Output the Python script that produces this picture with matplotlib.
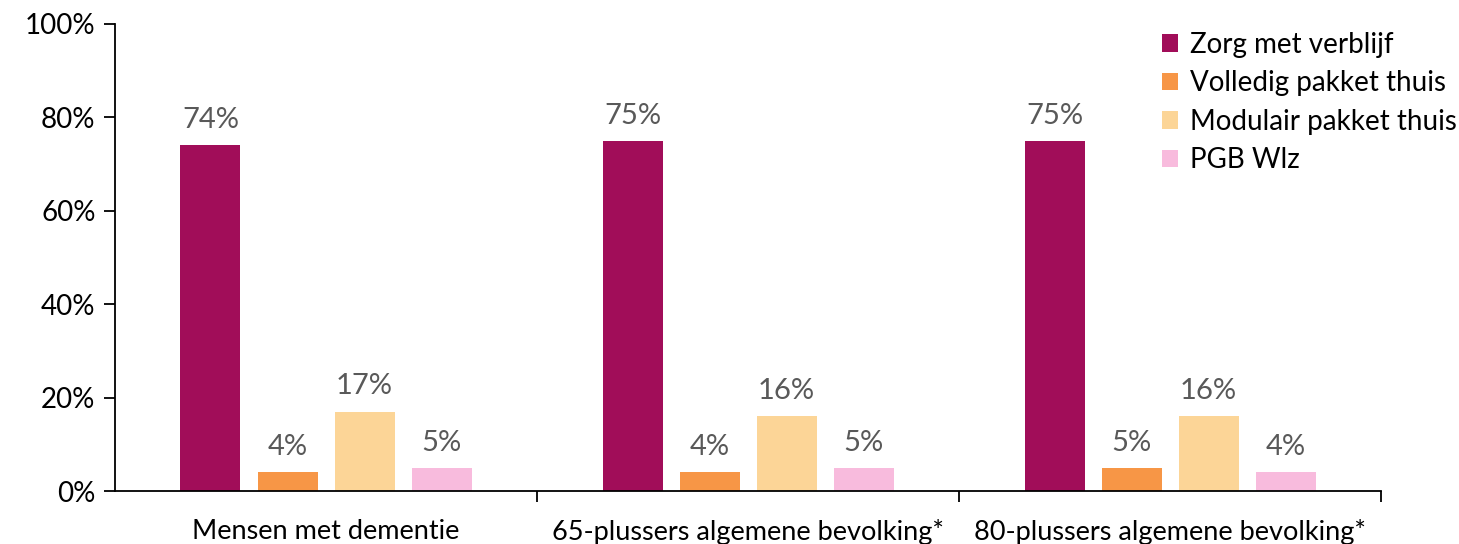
import numpy as np
import matplotlib
matplotlib.use("Agg")
import matplotlib.pyplot as plt
from matplotlib.ticker import PercentFormatter, FixedLocator

plt.rcParams['font.family'] = ['Lato', 'DejaVu Sans']

# ── data ──
groups = ["Mensen met dementie", "65-plussers algemene bevolking*", "80-plussers algemene bevolking*"]
series = ["Zorg met verblijf", "Volledig pakket thuis", "Modulair pakket thuis", "PGB Wlz"]
zorg_verblijf = [74, 75, 75]
volledig_thuis = [4, 4, 5]
modulair_thuis = [17, 16, 16]
pgb_wlz = [5, 5, 4]
colors = ["#A10D59", "#F79646", "#FCD597", "#F8BBDD"]

values = [zorg_verblijf, volledig_thuis, modulair_thuis, pgb_wlz]

fig = plt.figure(figsize=(14.59, 5.44), dpi=100)
ax = fig.add_axes([115 / 1459, 1 - 491 / 544, (1381 - 115) / 1459, (491 - 24) / 544])

x = np.arange(len(groups))
width = 60 / 422
pitch = 77 / 422
for k, (name, vals, col) in enumerate(zip(series, values, colors)):
    pos = x + (k - 1.5) * pitch
    bars = ax.bar(pos, vals, width=width, color=col, label=name)
    for b, v in zip(bars, vals):
        ax.text(b.get_x() + b.get_width() / 2, v + 2.6, f"{v}%",
                ha="center", va="bottom", fontsize=21, color="#595959")

ax.set_xlim(-0.5, len(groups) - 0.5)
ax.set_ylim(0, 100)
ax.yaxis.set_major_locator(FixedLocator([0, 20, 40, 60, 80, 100]))
ax.yaxis.set_major_formatter(PercentFormatter(decimals=0))

ax.set_xticks(x)
ax.set_xticklabels(groups)
ax.set_xticks(np.arange(len(groups)) + 0.5, minor=True)
ax.tick_params(axis="x", which="major", length=0, pad=20, labelsize=19.5)
ax.tick_params(axis="x", which="minor", length=8, width=1.3, direction="out")
ax.tick_params(axis="y", length=8, width=1.3, direction="out", labelsize=20, pad=6)

for s in ["top", "right"]:
    ax.spines[s].set_visible(False)
ax.spines["left"].set_linewidth(1.3)
ax.spines["bottom"].set_linewidth(1.3)

leg = ax.legend(loc="upper right", bbox_to_anchor=(1.064, 0.995), frameon=False, fontsize=20,
                borderaxespad=0, borderpad=0.2,
                handlelength=0.6, handleheight=0.6, handletextpad=0.4, labelspacing=0.45)

fig.savefig("out.png", dpi=100)
